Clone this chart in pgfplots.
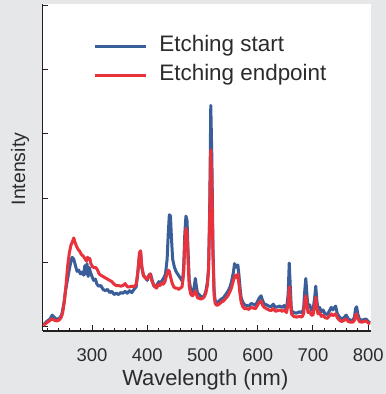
\documentclass[border=0pt]{standalone}
\usepackage{pgfplots}
\pgfplotsset{compat=1.18}
\usepackage{fontspec}
\setmainfont{Liberation Sans}
\definecolor{bgc}{HTML}{E6E7E9}
\definecolor{cblue}{HTML}{3A5E99}
\definecolor{cred}{HTML}{E8323C}
\definecolor{txt}{HTML}{2B2B2B}
\definecolor{axc}{HTML}{231F20}
\begin{document}
\begin{tikzpicture}
\useasboundingbox (0bp,0bp) rectangle (386bp,394bp);
\fill[bgc] (0bp,0bp) rectangle (386bp,394bp);
\begin{axis}[
  at={(42.5bp,63bp)}, anchor=south west,
  scale only axis, width=328.5bp, height=326.5bp,
  xmin=210.4, xmax=805, ymin=-0.067, ymax=5.01,
  axis x line*=bottom, axis y line*=left,
  axis line style={axc, line width=1.3bp, -},
  axis background/.style={fill=white},
  xtick={300,400,...,800}, minor xtick={220,240,...,800},
  ytick={0,1,2,3,4,5}, yticklabels={},
  tick align=inside, major tick length=5.5bp, minor tick length=3.3bp,
  every tick/.style={axc, line width=1bp},
  /pgf/number format/assume math mode=true,
  xticklabel style={font=\fontsize{18.5}{22}\selectfont, text=txt, anchor=base, yshift=-30bp, inner sep=0pt},
  xlabel={Wavelength (nm)}, ylabel={Intensity},
  xlabel style={font=\fontsize{22}{26}\selectfont, text=txt, at={(axis description cs:0.4956,-0.166)}, anchor=base, inner sep=0pt},
  ylabel style={font=\fontsize{19.5}{23}\selectfont, text=txt, at={(axis description cs:-0.0685,0.496)}, anchor=center, inner sep=0pt},
  legend style={at={(axis description cs:0.155,0.905)}, anchor=north west, draw=none, fill=none,
    font=\fontsize{22.5}{27}\selectfont, text=txt, inner sep=0pt, outer sep=0pt, row sep=8.4bp,
    nodes={inner sep=0pt, text height=16bp, text depth=5bp},
    /tikz/every odd column/.append style={column sep=12bp}},
  legend cell align=left,
  legend image code/.code={\draw[#1] (0bp,0bp) -- (51bp,0bp);},
  every axis plot/.append style={line width=3bp, line join=round},
]
\addplot[cblue] coordinates {
(212,0.03)(218,0.08)(224,0.12)(228,0.18)(231,0.15)(235,0.12)(240,0.12)(245,0.18)(249,0.35)(252,0.55)(255,0.70)(258,0.85)(261,0.98)(264,1.08)(267,1.05)(270,0.95)(273,0.86)(276,0.88)(279,0.82)(282,0.85)(285,0.80)(287,0.95)(289,0.82)(291,0.98)(293,0.78)(295,0.92)(297,0.85)(300,0.78)(303,0.72)(306,0.74)(309,0.66)(312,0.63)(316,0.64)(320,0.58)(324,0.56)(328,0.58)(332,0.53)(336,0.55)(340,0.50)(344,0.52)(348,0.50)(352,0.53)(356,0.52)(360,0.55)(364,0.52)(368,0.56)(372,0.53)(376,0.58)(380,0.62)(383,0.85)(386,1.12)(388,1.15)(390,0.92)(393,0.80)(397,0.76)(400,0.72)(403,0.80)(406,0.82)(409,0.72)(412,0.63)(415,0.62)(418,0.66)(421,0.70)(424,0.68)(427,0.72)(430,0.76)(433,0.82)(436,1.05)(438,1.45)(440,1.74)(442,1.72)(444,1.35)(446,1.05)(449,0.93)(452,0.86)(455,0.82)(458,0.78)(461,0.74)(464,0.70)(466,0.95)(468,1.45)(470,1.72)(472,1.65)(474,1.15)(476,0.72)(479,0.56)(482,0.52)(485,0.62)(487,0.75)(489,0.62)(491,0.52)(494,0.50)(497,0.47)(500,0.46)(503,0.48)(506,0.55)(509,0.70)(511,0.90)(513,1.8)(515,3.44)(517,2.6)(519,1.2)(521,0.55)(523,0.40)(526,0.37)(530,0.40)(534,0.43)(538,0.45)(542,0.50)(546,0.55)(550,0.62)(553,0.72)(556,0.85)(558,0.98)(560,0.95)(562,0.92)(564,0.96)(566,0.80)(568,0.60)(570,0.45)(573,0.38)(576,0.34)(580,0.33)(584,0.32)(588,0.36)(592,0.35)(596,0.33)(600,0.40)(603,0.45)(606,0.48)(609,0.40)(612,0.35)(616,0.34)(620,0.32)(624,0.31)(628,0.35)(632,0.30)(636,0.31)(640,0.32)(644,0.30)(648,0.33)(652,0.27)(655,0.50)(657,0.99)(659,0.60)(661,0.25)(665,0.22)(670,0.21)(675,0.23)(680,0.22)(683,0.28)(685,0.55)(687,0.75)(689,0.50)(691,0.30)(694,0.34)(697,0.26)(700,0.25)(703,0.45)(705,0.63)(707,0.40)(709,0.28)(712,0.30)(715,0.23)(718,0.26)(722,0.20)(726,0.19)(730,0.25)(733,0.30)(736,0.26)(739,0.30)(741,0.32)(744,0.20)(748,0.15)(752,0.12)(756,0.14)(760,0.18)(764,0.12)(768,0.10)(772,0.10)(775,0.15)(777,0.28)(779,0.31)(781,0.20)(784,0.12)(788,0.10)(792,0.11)(796,0.12)(800,0.08)(803,0.06)
};
\addlegendentry{Etching start}
\addplot[cred] coordinates {
(212,0.02)(218,0.06)(224,0.10)(228,0.12)(232,0.10)(236,0.09)(240,0.10)(244,0.14)(247,0.22)(250,0.40)(253,0.65)(256,0.95)(259,1.15)(262,1.27)(265,1.33)(267,1.38)(269,1.32)(272,1.25)(275,1.20)(278,1.17)(281,1.12)(284,1.10)(287,1.06)(290,1.02)(292,1.08)(294,1.05)(296,1.06)(298,0.98)(301,0.93)(304,0.92)(307,0.92)(310,0.88)(313,0.82)(316,0.80)(320,0.78)(324,0.76)(328,0.74)(332,0.72)(336,0.70)(340,0.66)(344,0.64)(348,0.64)(352,0.63)(356,0.64)(360,0.67)(364,0.62)(368,0.62)(372,0.63)(376,0.62)(380,0.66)(383,0.85)(386,1.15)(388,1.18)(390,0.95)(393,0.80)(396,0.76)(399,0.74)(402,0.78)(405,0.82)(408,0.72)(411,0.66)(414,0.62)(417,0.60)(420,0.66)(423,0.64)(426,0.68)(429,0.66)(432,0.70)(435,0.80)(438,0.88)(440,0.86)(442,0.78)(445,0.68)(448,0.62)(451,0.60)(454,0.60)(457,0.58)(460,0.60)(463,0.62)(466,0.85)(468,1.30)(470,1.53)(472,1.45)(474,1.00)(476,0.62)(479,0.50)(482,0.48)(485,0.52)(487,0.56)(489,0.50)(491,0.45)(494,0.44)(497,0.43)(500,0.44)(503,0.46)(506,0.52)(509,0.65)(511,0.90)(513,1.7)(515,2.75)(517,2.2)(519,1.1)(521,0.50)(523,0.36)(526,0.33)(530,0.35)(534,0.38)(538,0.40)(542,0.44)(546,0.48)(550,0.55)(553,0.62)(556,0.72)(558,0.78)(560,0.80)(562,0.76)(564,0.82)(566,0.66)(568,0.50)(570,0.38)(573,0.31)(576,0.28)(580,0.28)(584,0.27)(588,0.30)(592,0.29)(596,0.28)(600,0.34)(603,0.38)(606,0.40)(609,0.33)(612,0.30)(616,0.28)(620,0.26)(624,0.25)(628,0.28)(632,0.24)(636,0.25)(640,0.26)(644,0.24)(648,0.26)(652,0.22)(655,0.35)(657,0.62)(659,0.40)(661,0.20)(665,0.16)(670,0.15)(675,0.16)(680,0.15)(683,0.20)(685,0.38)(687,0.48)(689,0.35)(691,0.22)(694,0.24)(697,0.18)(700,0.18)(703,0.33)(705,0.46)(707,0.30)(709,0.20)(712,0.22)(715,0.16)(718,0.18)(722,0.14)(726,0.13)(730,0.17)(733,0.20)(736,0.17)(739,0.19)(741,0.20)(744,0.14)(748,0.10)(752,0.08)(756,0.10)(760,0.12)(764,0.08)(768,0.07)(772,0.07)(775,0.10)(777,0.18)(779,0.20)(781,0.13)(784,0.08)(788,0.07)(792,0.08)(796,0.09)(800,0.06)(803,0.04)
};
\addlegendentry{Etching endpoint}
\end{axis}
\end{tikzpicture}
\end{document}
